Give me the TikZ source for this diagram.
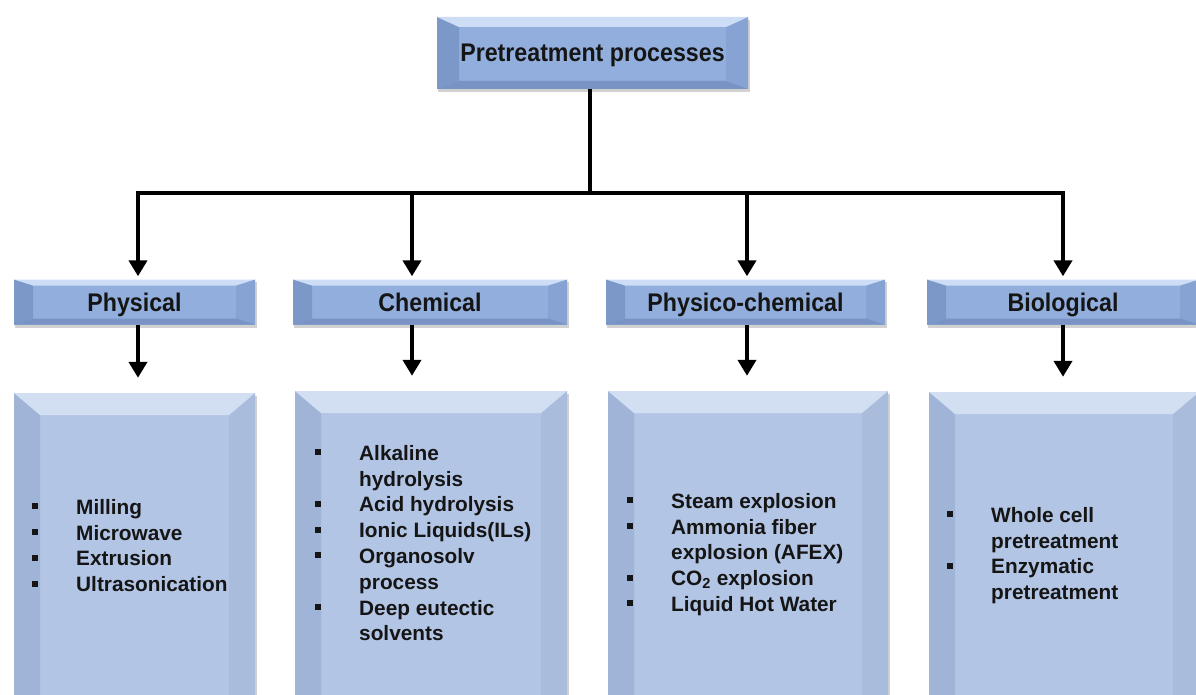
\documentclass[tikz,border=0pt]{standalone}
\usepackage{fontspec}
\setmainfont{Liberation Sans}
\newfontfamily\hfont[FakeStretch=0.91]{Liberation Sans}
\usetikzlibrary{arrows.meta,backgrounds}
\definecolor{hC}{HTML}{92AEDD}
\definecolor{hT}{HTML}{CCDDF5}
\definecolor{hL}{HTML}{7B98C9}
\definecolor{hR}{HTML}{86A3D3}
\definecolor{hB}{HTML}{7893C4}
\definecolor{lC}{HTML}{B3C5E4}
\definecolor{lT}{HTML}{D2DFF2}
\definecolor{lL}{HTML}{A0B4D7}
\definecolor{lR}{HTML}{A9BCDC}
\definecolor{lB}{HTML}{9DB1D4}
\definecolor{txt}{HTML}{151515}
\newcommand\bl{\makebox[44pt][l]{\hspace*{-0.5pt}\rule[5pt]{6pt}{6pt}}}
\newcommand\ind{\hspace*{44pt}}
\tikzset{
  bevx/.store in=\bevx, bevt/.store in=\bevt, bevb/.store in=\bevb,
  cT/.store in=\cT, cL/.store in=\cL, cR/.store in=\cR, cB/.store in=\cB,
  bevel/.style={path picture={
    \coordinate (@nw) at (path picture bounding box.north west);
    \coordinate (@ne) at (path picture bounding box.north east);
    \coordinate (@se) at (path picture bounding box.south east);
    \coordinate (@sw) at (path picture bounding box.south west);
    \fill[\cL] (@sw) -- (@nw) -- ([shift={(\bevx,-\bevt)}]@nw) -- ([shift={(\bevx,\bevb)}]@sw) -- cycle;
    \fill[\cR] (@ne) -- (@se) -- ([shift={(-\bevx,\bevb)}]@se) -- ([shift={(-\bevx,-\bevt)}]@ne) -- cycle;
    \fill[\cT] (@nw) -- (@ne) -- ([shift={(-\bevx,-\bevt)}]@ne) -- ([shift={(\bevx,-\bevt)}]@nw) -- cycle;
    \fill[\cB] (@sw) -- (@se) -- ([shift={(-\bevx,\bevb)}]@se) -- ([shift={(\bevx,\bevb)}]@sw) -- cycle;
  }},
  headbox/.style={bevel, fill=hC, cT=hT, cL=hL, cR=hR, cB=hB, bevx=19pt, bevt=6pt, bevb=6pt,
    inner sep=0pt, minimum height=45pt, text=txt,
    font=\hfont\bfseries\fontsize{25.5}{28}\selectfont, text height=18pt, text depth=0pt},
  listbox/.style={bevel, fill=lC, cT=lT, cL=lL, cR=lR, cB=lB, bevx=26pt, bevt=22pt, bevb=20pt,
    inner sep=0pt, minimum height=329pt},
  items/.style={anchor=north west, inner sep=0pt, text=txt,
    font=\bfseries\fontsize{20.8}{25.8}\selectfont},
  ln/.style={line width=4pt, draw=black},
  arr/.style={ln, -{Triangle[width=18pt,length=16pt]}},
  shad/.style={fill=black, opacity=0.18}
}
\begin{document}
\begin{tikzpicture}[x=1pt,y=-1pt]
\useasboundingbox (0,0) rectangle (1196,695);
\clip (0,0) rectangle (1196,695);

% top
\node[headbox, bevx=22pt, bevt=10pt, bevb=8pt, minimum width=311pt, minimum height=72pt] (top) at (592.5,53) {Pretreatment processes};

% categories
\node[headbox, minimum width=241pt] (phys) at (134.5,302) {Physical};
\node[headbox, minimum width=274pt] (chem) at (430,302) {Chemical};
\node[headbox, minimum width=279pt] (pc) at (745.5,302) {Physico-chemical};
\node[headbox, minimum width=272pt] (bio) at (1063,302) {Biological};

% list boxes
\node[listbox, minimum width=241pt] (physL) at (134.5,557.5) {};
\node[listbox, minimum width=272pt] (chemL) at (431,555.5) {};
\node[listbox, minimum width=280pt] (pcL) at (748,555.5) {};
\node[listbox, minimum width=270pt] (bioL) at (1064,556.5) {};

% shadows
\begin{scope}[on background layer]
\fill[white] (0,0) rectangle (1196,695);
\foreach \n in {top, phys, chem, pc, bio, physL, chemL, pcL, bioL}{
  \fill[shad] ([shift={(1.5pt,-3pt)}]\n.south west) rectangle ([shift={(1.5pt,-3pt)}]\n.north east);
}
\end{scope}

% lists
\node[items] (physT) at (32,496) {\begin{tabular}{@{}l@{}}
\bl Milling\\ \bl Microwave\\ \bl Extrusion\\ \bl Ultrasonication\end{tabular}};
\node[items] (chemT) at (315,442) {\begin{tabular}{@{}l@{}}
\bl Alkaline\\ \ind hydrolysis\\ \bl Acid hydrolysis\\ \bl Ionic Liquids(ILs)\\
\bl Organosolv\\ \ind process\\ \bl Deep eutectic\\ \ind solvents\end{tabular}};
\node[items] (pcT) at (627,490) {\begin{tabular}{@{}l@{}}
\bl Steam explosion\\ \bl Ammonia fiber\\ \ind explosion (AFEX)\\
\bl CO\textsubscript{2} explosion\\ \bl Liquid Hot Water\end{tabular}};
\node[items] (bioT) at (947,504) {\begin{tabular}{@{}l@{}}
\bl Whole cell\\ \ind pretreatment\\ \bl Enzymatic\\ \ind pretreatment\end{tabular}};

% connectors
\coordinate (bus) at (590,193);
\coordinate (a1) at ([xshift=3.5pt]phys.north);
\coordinate (a2) at ([xshift=-18pt]chem.north);
\coordinate (a3) at ([xshift=1.5pt]pc.north);
\coordinate (a4) at (bio.north);
\draw[ln] (top.south -| bus) -- (bus);
\draw[ln, line cap=rect] (a1 |- bus) -- (a4 |- bus);
\foreach \a in {a1, a2, a3, a4}{
  \draw[arr, shorten >=3pt] (\a |- bus) -- (\a);
}
\foreach \a/\n in {a1/phys, a2/chem, a3/pc, a4/bio}{
  \draw[arr, shorten >=15pt] (\a |- \n.south) -- (\a |- \n L.north);
}
\end{tikzpicture}
\end{document}
